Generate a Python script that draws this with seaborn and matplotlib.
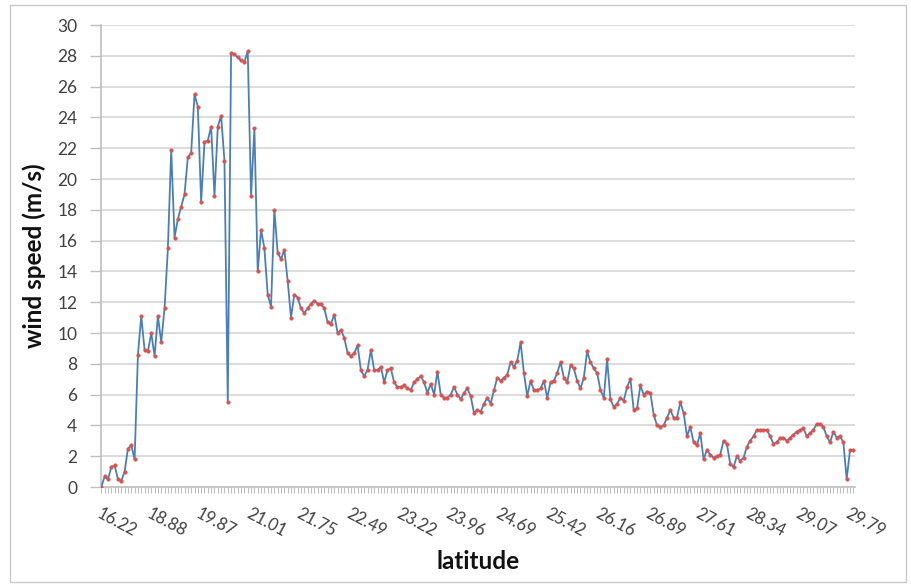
import matplotlib
matplotlib.use("Agg")
import matplotlib.pyplot as plt
from matplotlib.patches import Rectangle
from matplotlib.ticker import MultipleLocator, FixedLocator
import seaborn as sns

# Wind speed (m/s) at successive track points, ordered by latitude
wind_speed = [
    0.0, 0.7, 0.5, 1.3, 1.4, 0.5, 0.4, 1.0, 2.5, 2.7,
    1.8, 8.6, 11.1, 8.9, 8.8, 10.0, 8.5, 11.1, 9.4, 11.6,
    15.5, 21.9, 16.2, 17.4, 18.2, 19.0, 21.4, 21.7, 25.5, 24.7,
    18.5, 22.4, 22.5, 23.4, 18.9, 23.4, 24.1, 21.2, 5.5, 28.2,
    28.1, 27.9, 27.7, 27.6, 28.3, 18.9, 23.3, 14.0, 16.7, 15.5,
    12.5, 11.7, 18.0, 15.2, 14.8, 15.4, 13.4, 11.0, 12.5, 12.3,
    11.6, 11.3, 11.6, 11.9, 12.1, 11.9, 11.9, 11.6, 10.7, 10.6,
    11.2, 10.0, 10.2, 9.7, 8.7, 8.5, 8.7, 9.2, 7.6, 7.2,
    7.6, 8.9, 7.6, 7.6, 7.8, 6.8, 7.6, 7.7, 6.8, 6.5,
    6.5, 6.6, 6.4, 6.3, 6.8, 7.0, 7.2, 6.8, 6.1, 6.7,
    6.0, 7.5, 6.0, 5.8, 5.8, 6.0, 6.5, 6.0, 5.7, 6.1,
    6.4, 5.9, 4.8, 5.0, 4.9, 5.4, 5.8, 5.4, 6.3, 7.1,
    6.9, 7.1, 7.3, 8.1, 7.8, 8.2, 9.4, 7.4, 5.9, 6.9,
    6.3, 6.3, 6.4, 6.9, 5.8, 6.8, 6.9, 7.4, 8.1, 7.1,
    6.8, 7.9, 7.7, 6.9, 6.4, 7.1, 8.8, 8.1, 7.7, 7.4,
    6.3, 5.8, 8.3, 5.7, 5.2, 5.4, 5.8, 5.6, 6.5, 7.0,
    5.0, 5.1, 6.6, 6.0, 6.2, 6.1, 4.7, 4.0, 3.9, 4.0,
    4.5, 5.0, 4.5, 4.5, 5.5, 4.8, 3.3, 3.9, 2.9, 2.7,
    3.5, 1.8, 2.4, 2.1, 1.9, 2.0, 2.1, 3.0, 2.8, 1.5,
    1.3, 2.0, 1.7, 1.9, 2.6, 3.0, 3.3, 3.7, 3.7, 3.7,
    3.7, 3.3, 2.8, 2.9, 3.2, 3.2, 3.0, 3.2, 3.4, 3.6,
    3.7, 3.8, 3.3, 3.5, 3.7, 4.1, 4.1, 3.9, 3.3, 2.9,
    3.6, 3.2, 3.3, 2.9, 0.5, 2.4, 2.4,
]

# Latitude labels shown on the category axis (one every 15 points)
latitude_labels = ["16.22", "18.88", "19.87", "21.01", "21.75", "22.49",
                   "23.22", "23.96", "24.69", "25.42", "26.16", "26.89",
                   "27.61", "28.34", "29.07", "29.79"]
label_step = 15

point_index = list(range(len(wind_speed)))

sns.set_theme(style="white")
plt.rcParams["font.family"] = ["Lato", "DejaVu Sans"]

fig = plt.figure(figsize=(9.12, 5.87), dpi=100)
ax = fig.add_axes([101 / 912, 1 - 487 / 587, (855 - 101) / 912, (487 - 25) / 587])

line_blue = "#4A7EBB"
marker_red = "#D9534F"
grid_gray = "#D9D9D9"
axis_gray = "#BFBFBF"
text_gray = "#404040"

sns.lineplot(x=point_index, y=wind_speed, ax=ax, color=line_blue, lw=1.3,
             marker="o", markersize=2.6, markerfacecolor=marker_red,
             markeredgecolor=marker_red, markeredgewidth=0.3, zorder=3)

ax.set_xlim(-0.1, len(wind_speed) - 1 + 0.5)
ax.set_ylim(0, 30)
ax.yaxis.set_major_locator(MultipleLocator(2))
ax.grid(axis="y", color=grid_gray, lw=1.3)
ax.grid(axis="x", visible=False)
ax.set_axisbelow(True)

for side in ("top", "right"):
    ax.spines[side].set_visible(False)
for side in ("left", "bottom"):
    ax.spines[side].set_color(axis_gray)
    ax.spines[side].set_linewidth(1.2)

label_pos = [i * label_step for i in range(len(latitude_labels))]
ax.xaxis.set_major_locator(FixedLocator(label_pos))
ax.xaxis.set_minor_locator(MultipleLocator(1))
ax.set_xticklabels(latitude_labels, rotation=-28, ha="left", va="top",
                   rotation_mode="anchor", fontsize=12, color=text_gray)
ax.tick_params(axis="x", which="both", bottom=True, length=4, width=0.8,
               color=axis_gray, direction="out", pad=9)
ax.tick_params(axis="y", left=True, length=8, width=1.0, color=axis_gray,
               labelsize=12.5, labelcolor=text_gray, pad=9)

ax.set_ylabel("wind speed (m/s)", fontsize=17.5, fontweight="bold",
              color="#111111", labelpad=8)
ax.set_xlabel("latitude", fontsize=17.5, fontweight="bold", color="#111111",
              labelpad=8)

# chart-area frame
fig.patches.append(Rectangle((10 / 912, 5 / 587), 896 / 912, 577 / 587,
                             transform=fig.transFigure, fill=False,
                             edgecolor="#C8C8C8", lw=1.0))

fig.savefig("out.png", dpi=100)
